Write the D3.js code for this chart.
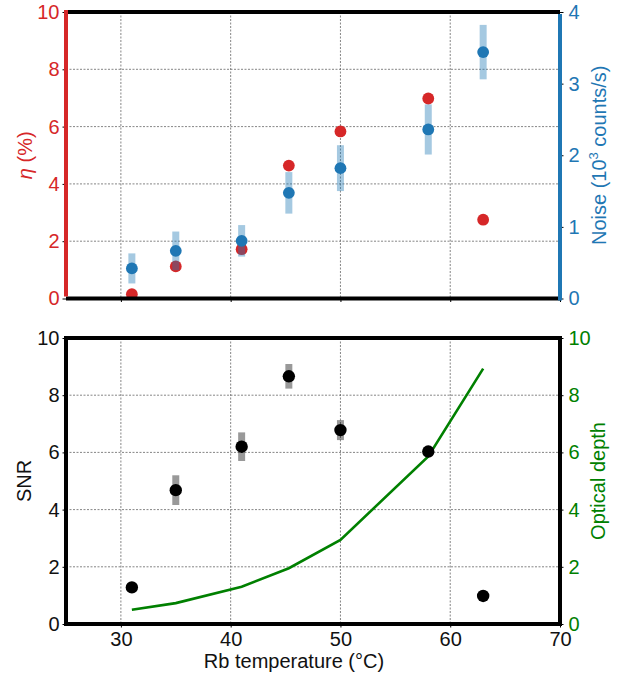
<!DOCTYPE html>
<html><head><meta charset="utf-8">
<script src="https://cdn.jsdelivr.net/npm/d3@7"></script>
<style>
body{margin:0;background:#fff;}
text{font-family:"Liberation Sans",Arial,Helvetica,sans-serif;}
</style></head>
<body><svg id="c" width="626" height="677"></svg>
<script>
// Data
const temps = [31, 35, 41, 45.3, 50, 58, 63];
const eta = [0.15, 1.12, 1.72, 4.64, 5.83, 6.98, 2.75];
const noise = [0.42, 0.665, 0.805, 1.475, 1.82, 2.36, 3.44];
const noiseErr = [0.21, 0.27, 0.22, 0.29, 0.32, 0.35, 0.38];
const snr = [1.28, 4.68, 6.2, 8.66, 6.78, 6.03, 0.98];
const snrErr = [0.12, 0.52, 0.5, 0.43, 0.35, 0.15, 0.05];
const opticalDepth = [0.5, 0.73, 1.3, 1.95, 2.94, 5.86, 8.93];
const xTicks = [30, 40, 50, 60, 70];
const leftTicks = [0, 2, 4, 6, 8, 10];
const noiseTicks = [0, 1, 2, 3, 4];

const RED = "#d62728", BLUE = "#1f77b4", GREEN = "#008000";
const TICKFS = 20, LABFS = 20;
const svg = d3.select("#c");
const L = 66, R = 560;
const x = d3.scaleLinear().domain([25, 70]).range([L, R]);

function panel(top, bottom) {
  const g = svg.append("g");
  const y = d3.scaleLinear().domain([0, 10]).range([bottom, top]);
  g.append("g").selectAll("line").data(xTicks.filter(t => t > 25 && t < 70)).join("line")
    .attr("x1", d => x(d)).attr("x2", d => x(d)).attr("y1", top).attr("y2", bottom)
    .attr("stroke", "#666").attr("stroke-width", 0.8).attr("stroke-dasharray", "2,1.5");
  g.append("g").selectAll("line").data(leftTicks.filter(t => t > 0 && t < 10)).join("line")
    .attr("x1", L).attr("x2", R).attr("y1", d => y(d)).attr("y2", d => y(d))
    .attr("stroke", "#666").attr("stroke-width", 0.8).attr("stroke-dasharray", "2,1.5");
  return {g, y};
}

// ---------- Top panel ----------
const T1 = 12, B1 = 298.5;
const p1 = panel(T1, B1);
const yEta = p1.y;
const yNoise = d3.scaleLinear().domain([0, 4]).range([B1, T1]);

p1.g.append("g").selectAll("circle").data(temps).join("circle")
  .attr("cx", d => x(d)).attr("cy", (d, i) => yEta(eta[i])).attr("r", 5.9).attr("fill", RED);
p1.g.append("g").selectAll("line").data(temps).join("line")
  .attr("x1", d => x(d)).attr("x2", d => x(d))
  .attr("y1", (d, i) => yNoise(noise[i] - noiseErr[i])).attr("y2", (d, i) => yNoise(noise[i] + noiseErr[i]))
  .attr("stroke", BLUE).attr("stroke-opacity", 0.4).attr("stroke-width", 7);
p1.g.append("g").selectAll("circle").data(temps).join("circle")
  .attr("cx", d => x(d)).attr("cy", (d, i) => yNoise(noise[i])).attr("r", 5.9).attr("fill", BLUE);

const axB1 = svg.append("g").attr("transform", `translate(0,${B1})`)
  .call(d3.axisBottom(x).tickValues(xTicks).tickSize(3.5).tickFormat(""));
const axL1 = svg.append("g").attr("transform", `translate(${L},0)`)
  .call(d3.axisLeft(yEta).tickValues(leftTicks).tickSize(3.5).tickPadding(3).tickFormat(d3.format("d")));
const axR1 = svg.append("g").attr("transform", `translate(${R},0)`)
  .call(d3.axisRight(yNoise).tickValues(noiseTicks).tickSize(3.5).tickPadding(5).tickFormat(d3.format("d")));
[axB1, axL1, axR1].forEach(a => { a.select(".domain").remove(); a.selectAll(".tick line").attr("stroke", "#000").attr("stroke-width", 1); });
axL1.selectAll("text").attr("font-size", TICKFS).attr("fill", RED);
axR1.selectAll("text").attr("font-size", TICKFS).attr("fill", BLUE);
svg.append("line").attr("x1", L).attr("x2", R).attr("y1", T1).attr("y2", T1).attr("stroke", "#000").attr("stroke-width", 4);
svg.append("line").attr("x1", L).attr("x2", R).attr("y1", B1).attr("y2", B1).attr("stroke", "#000").attr("stroke-width", 4);
svg.append("line").attr("x1", L).attr("x2", L).attr("y1", T1 - 2).attr("y2", B1 - 2).attr("stroke", RED).attr("stroke-width", 4);
svg.append("line").attr("x1", R).attr("x2", R).attr("y1", T1 + 2).attr("y2", B1 + 2).attr("stroke", BLUE).attr("stroke-width", 4);

const lab1 = svg.append("text").attr("transform", `translate(32,${(T1 + B1) / 2}) rotate(-90)`)
  .attr("text-anchor", "middle").attr("font-size", LABFS).attr("fill", RED);
lab1.append("tspan").attr("font-style", "italic").text("η");
lab1.append("tspan").text(" (%)");
const lab2 = svg.append("text").attr("transform", `translate(606,${(T1 + B1) / 2}) rotate(-90)`)
  .attr("text-anchor", "middle").attr("font-size", LABFS).attr("fill", BLUE);
lab2.append("tspan").text("Noise (10");
lab2.append("tspan").attr("font-size", 13).attr("dy", -8).text("3");
lab2.append("tspan").attr("dy", 8).text(" counts/s)");

// ---------- Bottom panel ----------
const T2 = 338, B2 = 624;
const p2 = panel(T2, B2);
const ySnr = p2.y;
const yOd = d3.scaleLinear().domain([0, 10]).range([B2, T2]);

p2.g.append("path").datum(temps)
  .attr("d", d3.line().x(d => x(d)).y((d, i) => yOd(opticalDepth[i])))
  .attr("fill", "none").attr("stroke", GREEN).attr("stroke-width", 2.6);
p2.g.append("g").selectAll("line").data(temps).join("line")
  .attr("x1", d => x(d)).attr("x2", d => x(d))
  .attr("y1", (d, i) => ySnr(snr[i] - snrErr[i])).attr("y2", (d, i) => ySnr(snr[i] + snrErr[i]))
  .attr("stroke", "#000").attr("stroke-opacity", 0.4).attr("stroke-width", 7);
p2.g.append("g").selectAll("circle").data(temps).join("circle")
  .attr("cx", d => x(d)).attr("cy", (d, i) => ySnr(snr[i])).attr("r", 6.2).attr("fill", "#000");

const axB2 = svg.append("g").attr("transform", `translate(0,${B2})`)
  .call(d3.axisBottom(x).tickValues(xTicks).tickSize(3.5).tickPadding(4));
const axL2 = svg.append("g").attr("transform", `translate(${L},0)`)
  .call(d3.axisLeft(ySnr).tickValues(leftTicks).tickSize(3.5).tickPadding(3));
const axR2 = svg.append("g").attr("transform", `translate(${R},0)`)
  .call(d3.axisRight(yOd).tickValues(leftTicks).tickSize(3.5).tickPadding(5));
[axB2, axL2, axR2].forEach(a => { a.select(".domain").remove(); a.selectAll(".tick line").attr("stroke", "#000").attr("stroke-width", 1); a.selectAll("text").attr("font-size", TICKFS).attr("fill", "#111"); });
axR2.selectAll("text").attr("fill", GREEN);
svg.append("rect").attr("x", L).attr("y", T2).attr("width", R - L).attr("height", B2 - T2)
  .attr("fill", "none").attr("stroke", "#000").attr("stroke-width", 4);

svg.append("text").attr("transform", `translate(31,${(T2 + B2) / 2}) rotate(-90)`)
  .attr("text-anchor", "middle").attr("font-size", LABFS).attr("fill", "#111").text("SNR");
svg.append("text").attr("transform", `translate(605,${(T2 + B2) / 2}) rotate(-90)`)
  .attr("text-anchor", "middle").attr("font-size", LABFS).attr("fill", GREEN).text("Optical depth");
svg.append("text").attr("x", 294).attr("y", 668)
  .attr("text-anchor", "middle").attr("font-size", LABFS).attr("fill", "#111").text("Rb temperature (°C)");
</script></body></html>
